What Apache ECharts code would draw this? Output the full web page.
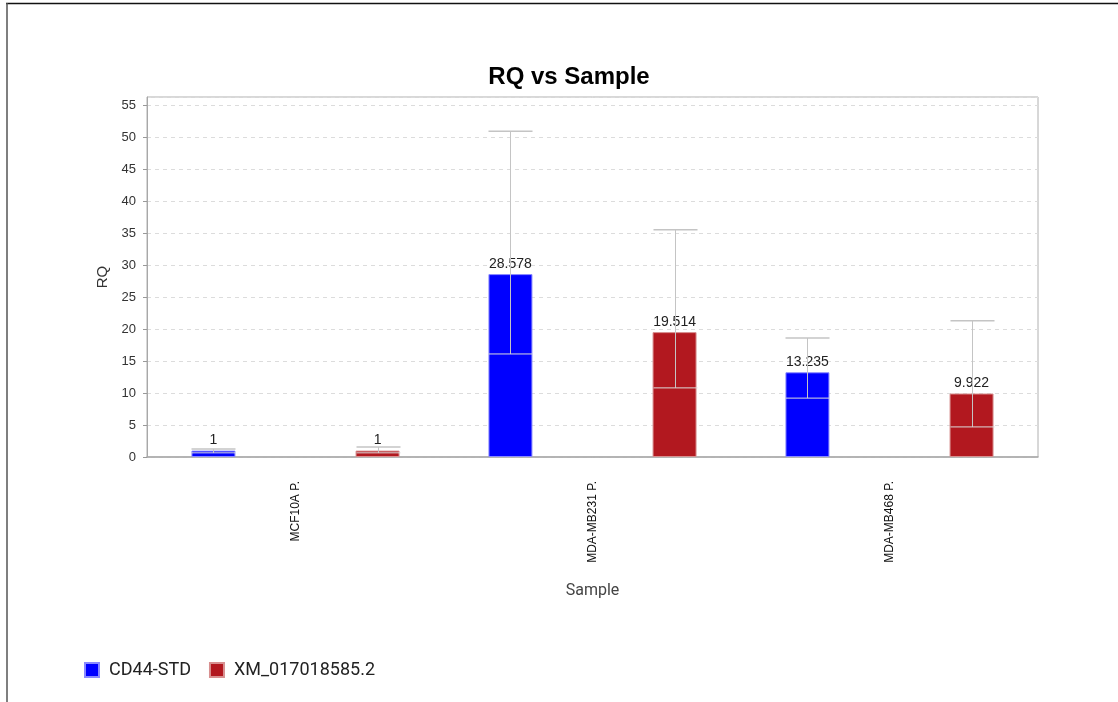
<!DOCTYPE html>
<html>
<head>
<meta charset="utf-8">
<script src="https://cdn.jsdelivr.net/npm/echarts@6/dist/echarts.min.js"></script>
<style>
html,body{margin:0;padding:0;background:#fff;}
#chart{width:1118px;height:702px;}
</style>
</head>
<body>
<div id="chart"></div>
<script>
// ---- data ----
var categories = ['MCF10A P.', 'MDA-MB231 P.', 'MDA-MB468 P.'];
var seriesNames = ['CD44-STD', 'XM_017018585.2'];
var cd44Values = [1, 28.578, 13.235];
var xmValues = [1, 19.514, 9.922];
var cd44ErrHigh = [1.25, 50.9, 18.6];
var cd44ErrLow = [0.65, 16.1, 9.2];
var xmErrHigh = [1.55, 35.5, 21.3];
var xmErrLow = [0.65, 10.8, 4.7];
var yTickValues = [0, 5, 10, 15, 20, 25, 30, 35, 40, 45, 50, 55];

// ---- style ----
var BAR_W = 44;
var GAP_RATIO = 2.73;
var OFFSET = (BAR_W + BAR_W * GAP_RATIO) / 2;

function errSeries(name, hi, lo, dir) {
  return {
    name: name,
    type: 'custom',
    z: 5,
    silent: true,
    data: categories.map(function (c, i) { return [i, hi[i], lo[i]]; }),
    renderItem: function (params, api) {
      var x = api.value(0);
      var pHi = api.coord([x, api.value(1)]);
      var pLo = api.coord([x, api.value(2)]);
      var cx = Math.round(pHi[0] + dir * OFFSET) + 0.5;
      var hw = BAR_W / 2;
      return {
        type: 'group',
        children: [
          { type: 'line', shape: { x1: cx, y1: pHi[1], x2: cx, y2: pLo[1] }, style: { stroke: '#c4c4c4', lineWidth: 1 } },
          { type: 'line', shape: { x1: cx - hw, y1: pHi[1], x2: cx + hw, y2: pHi[1] }, style: { stroke: '#c4c4c4', lineWidth: 1.5 } },
          { type: 'line', shape: { x1: cx - hw, y1: pLo[1], x2: cx + hw, y2: pLo[1] }, style: { stroke: '#dcdcdc', lineWidth: 1 } }
        ]
      };
    }
  };
}

var chart = echarts.init(document.getElementById('chart'), null, { renderer: 'canvas' });
var labelStyle = { show: true, position: 'top', distance: 3, color: '#222', fontSize: 14, fontFamily: 'Liberation Sans' };
chart.setOption({
  animation: false,
  backgroundColor: '#fff',
  title: {
    text: 'RQ vs Sample',
    left: 564, top: 60, textAlign: 'center',
    textStyle: { fontFamily: 'Liberation Sans', fontWeight: 'bold', fontSize: 24, color: '#000' }
  },
  legend: {
    data: seriesNames,
    left: 84, top: 661, padding: 0,
    itemWidth: 14, itemHeight: 14, itemGap: 18,
    icon: 'rect',
    textStyle: { fontFamily: 'Roboto', fontSize: 18, color: '#222', padding: [0, 0, 0, 5] }
  },
  grid: {
    left: 147, right: 80, top: 97, bottom: 245,
    show: true, borderColor: '#b0b0b0', borderWidth: 1
  },
  graphic: [
    { type: 'line', shape: { x1: 6, y1: 3.5, x2: 1118, y2: 3.5 }, style: { stroke: '#111', lineWidth: 1.5 } },
    { type: 'line', shape: { x1: 7, y1: 3, x2: 7, y2: 702 }, style: { stroke: '#555', lineWidth: 1.5 } }
  ],
  xAxis: {
    type: 'category',
    data: categories,
    name: 'Sample',
    nameLocation: 'middle',
    nameGap: 126,
    nameTextStyle: { fontFamily: 'Roboto', fontSize: 16, color: '#444' },
    axisLine: { lineStyle: { color: '#a8a8a8', width: 1.5 } },
    axisTick: { show: false },
    axisLabel: { rotate: 90, margin: 24, fontFamily: 'Liberation Sans', fontSize: 12, color: '#111' },
    splitLine: { show: false }
  },
  yAxis: {
    type: 'value',
    min: 0, max: 56.25, interval: 5,
    name: 'RQ',
    nameLocation: 'middle',
    nameGap: 37,
    nameTextStyle: { fontFamily: 'Liberation Sans', fontSize: 15, color: '#333' },
    axisLine: { show: true, lineStyle: { color: '#a8a8a8' } },
    axisTick: { show: true, length: 4, lineStyle: { color: '#999' } },
    axisLabel: {
      showMaxLabel: false, margin: 11,
      fontFamily: 'Liberation Sans', fontSize: 13, color: '#333',
      formatter: function (v) { return yTickValues.indexOf(v) >= 0 ? String(v) : ''; }
    },
    splitLine: { show: true, lineStyle: { color: '#dcdcdc', type: [4, 4] } }
  },
  series: [
    {
      name: seriesNames[0], type: 'bar', data: cd44Values,
      barWidth: BAR_W, barGap: (GAP_RATIO * 100) + '%',
      itemStyle: { color: '#0000ff', borderColor: '#8a8aff', borderWidth: 1 },
      label: labelStyle
    },
    {
      name: seriesNames[1], type: 'bar', data: xmValues,
      barWidth: BAR_W, barGap: (GAP_RATIO * 100) + '%',
      itemStyle: { color: '#b2181f', borderColor: '#d89090', borderWidth: 1 },
      label: labelStyle
    },
    errSeries('err1', cd44ErrHigh, cd44ErrLow, -1),
    errSeries('err2', xmErrHigh, xmErrLow, 1)
  ]
});
</script>
</body>
</html>
